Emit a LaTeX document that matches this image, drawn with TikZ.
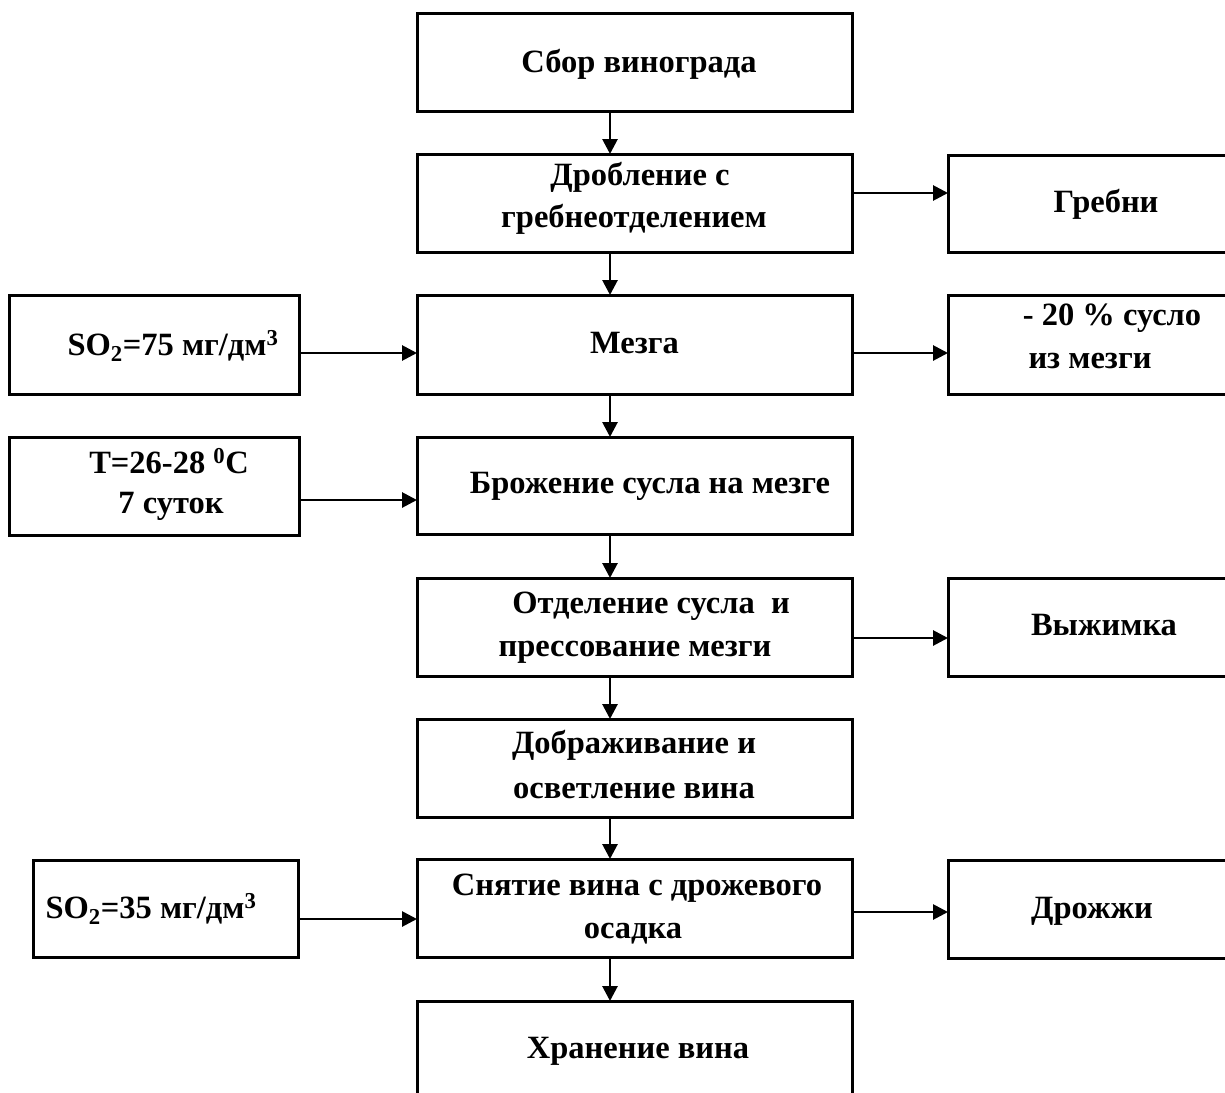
\documentclass[tikz,border=0pt]{standalone}
\usepackage{fontspec}
\setmainfont{Liberation Serif}
\usetikzlibrary{arrows.meta}
\begin{document}
\begin{tikzpicture}[x=1pt,y=-1pt,
  box/.style={draw=black,line width=3pt,rectangle,inner sep=0pt,outer sep=0pt},
  txt/.style={anchor=base,inner sep=0pt,font=\fontsize{32.5}{38}\selectfont\bfseries},
  arr/.style={line width=2.8pt,-{Triangle[length=15pt,width=15pt]}}]
\useasboundingbox[fill=white] (0,0) rectangle (1225,1092);
% centre column
\node[box,minimum width=435pt,minimum height=98pt] (b1) at (634.5,62) {};
\node[box,minimum width=435pt,minimum height=98pt] (b2) at (634.5,203) {};
\node[box,minimum width=435pt,minimum height=99pt] (b3) at (634.5,344.5) {};
\node[box,minimum width=435pt,minimum height=97pt] (b4) at (634.5,485.5) {};
\node[box,minimum width=435pt,minimum height=98pt] (b5) at (634.5,627) {};
\node[box,minimum width=435pt,minimum height=98pt] (b6) at (634.5,768) {};
\node[box,minimum width=435pt,minimum height=98pt] (b7) at (634.5,908) {};
\node[box,minimum width=435pt,minimum height=99pt] (b8) at (634.5,1050.5) {};
% left column
\node[box,minimum width=290pt,minimum height=99pt] (l1) at (154,344.5) {};
\node[box,minimum width=290pt,minimum height=98pt] (l2) at (154,486) {};
\node[box,minimum width=265pt,minimum height=97pt] (l3) at (165.5,908.5) {};
% right column
\node[box,minimum width=282pt,minimum height=97pt] (r1) at (1089,203.5) {};
\node[box,minimum width=282pt,minimum height=99pt] (r2) at (1089,344.5) {};
\node[box,minimum width=282pt,minimum height=98pt] (r3) at (1089,627) {};
\node[box,minimum width=282pt,minimum height=98pt] (r4) at (1089,909) {};
% texts
\node[txt] (t1) at (639,72) {Сбор винограда};
\node[txt] (t2a) at (640,185) {Дробление с};
\node[txt] (t2b) at (634,227) {гребнеотделением};
\node[txt] (t3) at (634.5,353) {Мезга};
\node[txt] (t4) at (650,493) {Брожение сусла на мезге};
\node[txt] (t5a) at (651,613) {Отделение сусла\ \ и};
\node[txt] (t5b) at (635,656) {прессование мезги};
\node[txt] (t6a) at (634,753) {Дображивание и};
\node[txt] (t6b) at (634,798) {осветление вина};
\node[txt] (t7a) at (637,895) {Снятие вина с дрожевого};
\node[txt] (t7b) at (633,938) {осадка};
\node[txt] (t8) at (638,1058) {Хранение вина};
\node[txt] (tl1) at (173,355) {SO\textsubscript{2}=75 мг/дм\textsuperscript{3}};
\node[txt] (tl2a) at (169,473) {T=26-28 \textsuperscript{0}C};
\node[txt] (tl2b) at (171,513) {7 суток};
\node[txt] (tl3) at (151,918) {SO\textsubscript{2}=35 мг/дм\textsuperscript{3}};
\node[txt] (tr1) at (1106,212) {Гребни};
\node[txt] (tr2a) at (1112,325) {- 20 \% сусло};
\node[txt] (tr2b) at (1090,368) {из мезги};
\node[txt] (tr3) at (1104,635) {Выжимка};
\node[txt] (tr4) at (1092,918) {Дрожжи};
% vertical connectors
\coordinate (vx) at (610,0);
\foreach \a/\b in {b1/b2,b2/b3,b3/b4,b4/b5,b5/b6,b6/b7,b7/b8}
  \draw[arr] (\a.south -| vx) -- (\b.north -| vx);
% horizontal connectors
\draw[arr] (b2.east |- 0,193) -- (r1.west |- 0,193);
\draw[arr] (b3.east |- 0,353) -- (r2.west |- 0,353);
\draw[arr] (b5.east |- 0,638) -- (r3.west |- 0,638);
\draw[arr] (b7.east |- 0,912) -- (r4.west |- 0,912);
\draw[arr] (l1.east |- 0,353) -- (b3.west |- 0,353);
\draw[arr] (l2.east |- 0,500) -- (b4.west |- 0,500);
\draw[arr] (l3.east |- 0,919) -- (b7.west |- 0,919);
\end{tikzpicture}
\end{document}
